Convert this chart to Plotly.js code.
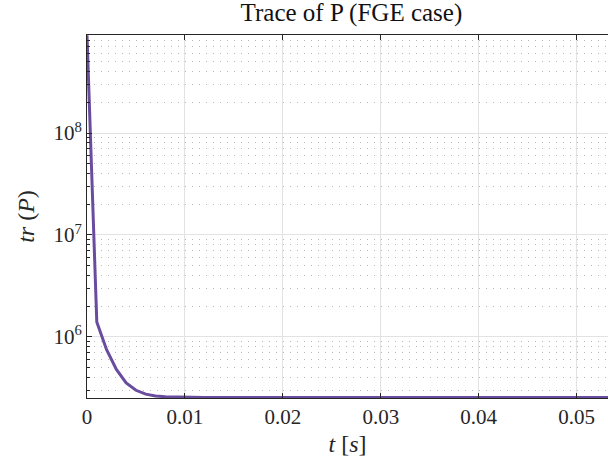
<!DOCTYPE html>
<html>
<head>
<meta charset="utf-8">
<script src="https://cdn.plot.ly/plotly-3.0.1.min.js"></script>
<style>html,body{margin:0;padding:0;background:#fff;}#chart{width:608px;height:468px;}</style>
</head>
<body>
<div id="chart"></div>
<script>
const timeS = [0, 0.001, 0.002, 0.003, 0.004, 0.005, 0.006, 0.007, 0.008, 0.009, 0.010,
  0.011, 0.012, 0.013, 0.014, 0.015, 0.016, 0.017, 0.018, 0.019, 0.020,
  0.022, 0.025, 0.030, 0.035, 0.040, 0.045, 0.050, 0.055];
const traceP = [9.1e8, 1.4e6, 7.5e5, 4.8e5, 3.55e5, 3.0e5, 2.75e5, 2.64e5, 2.59e5, 2.57e5, 2.56e5,
  2.555e5, 2.552e5, 2.551e5, 2.55e5, 2.55e5, 2.55e5, 2.55e5, 2.55e5, 2.55e5, 2.55e5,
  2.55e5, 2.55e5, 2.55e5, 2.55e5, 2.55e5, 2.55e5, 2.55e5, 2.55e5];
const xTickVals = [0, 0.01, 0.02, 0.03, 0.04, 0.05];
const xTickText = ['0', '0.01', '0.02', '0.03', '0.04', '0.05'];
const yTickVals = [1e6, 1e7, 1e8];
const yTickText = ['10<sup>6</sup>', '10<sup>7</sup>', '10<sup>8</sup>'];
const yMinorTickVals = [3e5, 4e5, 5e5, 6e5, 7e5, 8e5, 9e5,
  2e6, 3e6, 4e6, 5e6, 6e6, 7e6, 8e6, 9e6,
  2e7, 3e7, 4e7, 5e7, 6e7, 7e7, 8e7, 9e7,
  2e8, 3e8, 4e8, 5e8, 6e8, 7e8, 8e8, 9e8];

const font = '"Liberation Serif", "DejaVu Serif", serif';
const axisCol = '#262626';

const data = [{
  x: timeS, y: traceP, type: 'scatter', mode: 'lines',
  line: {color: '#6A4C9F', width: 3}, hoverinfo: 'skip'
}];

const layout = {
  width: 608, height: 468,
  margin: {l: 87, r: 0, t: 35, b: 70},
  paper_bgcolor: '#fff', plot_bgcolor: '#fff',
  showlegend: false,
  font: {family: font, color: axisCol, size: 20},
  title: {text: 'Trace of P (FGE case)', font: {family: font, size: 25, color: '#111'},
          x: 0.578, xanchor: 'center', y: 0.992, yanchor: 'top'},
  xaxis: {
    range: [0, 0.0532], tickmode: 'array', tickvals: xTickVals, ticktext: xTickText,
    showgrid: true, gridcolor: '#e2e2e2', gridwidth: 1,
    showline: true, linecolor: axisCol, linewidth: 1, mirror: 'ticks',
    ticks: 'inside', ticklen: 5, tickcolor: axisCol,
    tickfont: {family: font, size: 21, color: axisCol},
    zeroline: false,
    title: {text: '<i>t</i> [<i>s</i>]', font: {family: font, size: 24, color: axisCol}, standoff: 6}
  },
  yaxis: {
    type: 'log', range: [Math.log10(2.52e5), Math.log10(9.14e8)],
    tickmode: 'array', tickvals: yTickVals, ticktext: yTickText,
    showgrid: true, gridcolor: '#e2e2e2', gridwidth: 1,
    showline: true, linecolor: axisCol, linewidth: 1, mirror: false,
    ticks: 'inside', ticklen: 5, tickcolor: axisCol,
    tickfont: {family: font, size: 21, color: axisCol},
    ticklabelstandoff: 0,
    zeroline: false,
    minor: {tickmode: 'array', tickvals: yMinorTickVals, ticks: 'inside', ticklen: 3, tickcolor: axisCol,
            showgrid: true, gridcolor: '#b8b8b8', griddash: '1px,6px', gridwidth: 1},
    title: {text: '<i>tr</i> (<i>P</i>)', font: {family: font, size: 24, color: axisCol}, standoff: 12}
  }
};

Plotly.newPlot('chart', data, layout, {displayModeBar: false, staticPlot: true});
</script>
</body>
</html>
